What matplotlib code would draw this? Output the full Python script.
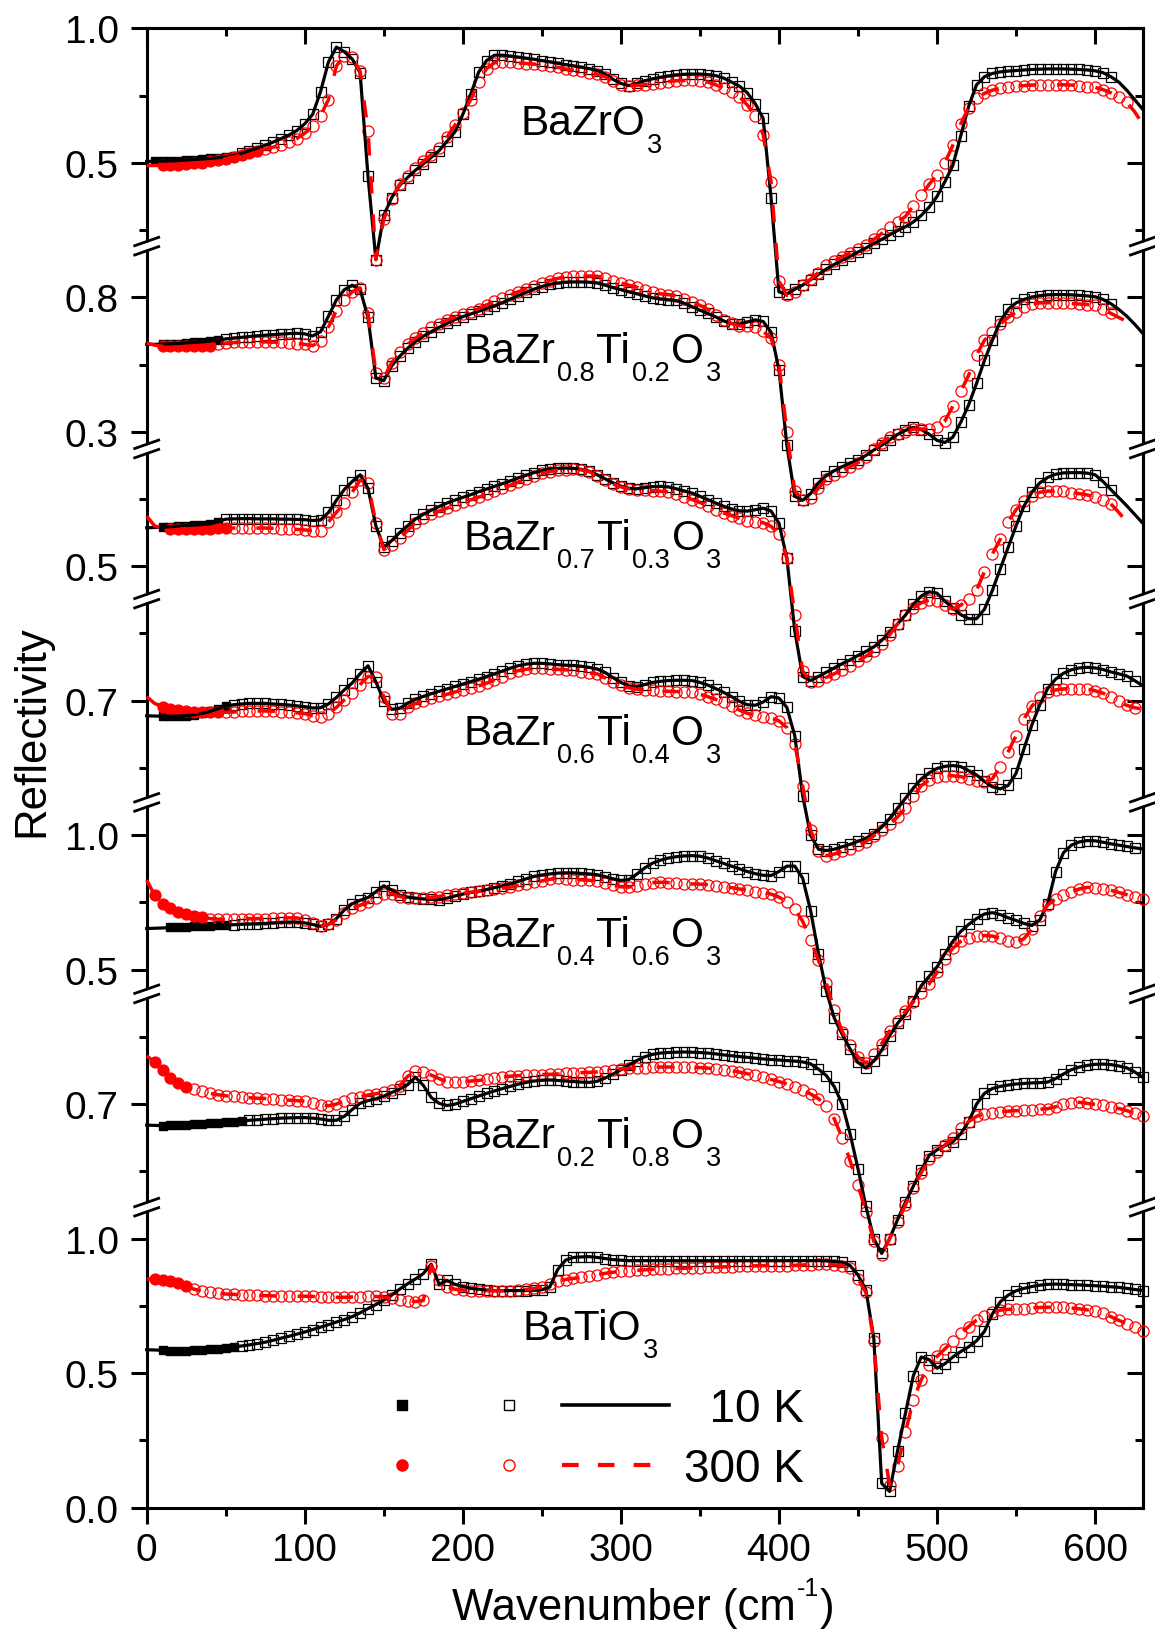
import numpy as np
import matplotlib
matplotlib.use("Agg")
import matplotlib.pyplot as plt
import matplotlib.transforms as mtransforms
from matplotlib.lines import Line2D
from matplotlib.patches import Polygon

plt.rcParams['font.family'] = ['Liberation Sans', 'DejaVu Sans']
plt.rcParams['mathtext.fontset'] = 'custom'
plt.rcParams['mathtext.rm'] = 'Liberation Sans'
plt.rcParams['mathtext.it'] = 'Liberation Sans:italic'
plt.rcParams['mathtext.bf'] = 'Liberation Sans:bold'

# ---------------- data ----------------
# wavenumber grid (cm^-1)
W = np.arange(0, 631, 5)

BZO_10K = [0.505,0.505,0.506,0.507,0.508,0.51,0.512,0.514,0.516,0.519,
           0.522,0.527,0.535,0.545,0.555,0.565,0.577,0.59,0.603,0.62,
           0.645,0.68,0.765,0.875,0.93,0.913,0.886,0.835,0.45,0.14,
           0.305,0.37,0.416,0.445,0.472,0.496,0.52,0.545,0.58,0.615,
           0.68,0.755,0.837,0.88,0.9,0.9,0.897,0.893,0.889,0.885,
           0.88,0.875,0.87,0.865,0.86,0.855,0.85,0.843,0.83,0.81,
           0.795,0.787,0.795,0.805,0.812,0.818,0.823,0.827,0.829,0.83,
           0.83,0.828,0.824,0.815,0.8,0.785,0.76,0.72,0.665,0.37,
           0.02,0.012,0.03,0.045,0.065,0.085,0.105,0.122,0.138,0.152,
           0.168,0.183,0.2,0.215,0.232,0.248,0.262,0.28,0.304,0.335,
           0.375,0.43,0.49,0.6,0.71,0.79,0.82,0.832,0.838,0.841,
           0.843,0.845,0.847,0.848,0.849,0.849,0.849,0.848,0.847,0.845,
           0.842,0.835,0.82,0.8,0.77,0.735,0.70]
BZO_300K = [0.49,0.49,0.49,0.491,0.493,0.495,0.498,0.501,0.505,0.51,
            0.515,0.522,0.53,0.537,0.544,0.551,0.558,0.567,0.577,0.59,
            0.61,0.635,0.675,0.735,0.86,0.898,0.892,0.84,0.62,0.14,
            0.29,0.366,0.42,0.45,0.48,0.505,0.53,0.555,0.595,0.64,
            0.685,0.735,0.8,0.85,0.872,0.874,0.873,0.871,0.869,0.867,
            0.864,0.86,0.855,0.849,0.844,0.84,0.835,0.83,0.82,0.803,
            0.79,0.786,0.788,0.791,0.794,0.798,0.802,0.805,0.806,0.806,
            0.805,0.8,0.79,0.778,0.762,0.745,0.715,0.675,0.605,0.43,
            0.06,0.007,0.02,0.045,0.067,0.092,0.119,0.135,0.15,0.165,
            0.18,0.195,0.215,0.237,0.26,0.28,0.3,0.34,0.379,0.42,
            0.455,0.5,0.565,0.645,0.705,0.74,0.758,0.77,0.777,0.782,
            0.785,0.787,0.789,0.79,0.79,0.79,0.79,0.789,0.787,0.783,
            0.78,0.772,0.76,0.745,0.725,0.69,0.645]

BZT20_10K = [0.625,0.625,0.626,0.627,0.628,0.63,0.632,0.634,0.637,0.64,
             0.645,0.648,0.651,0.654,0.657,0.659,0.661,0.663,0.665,0.666,
             0.664,0.656,0.672,0.73,0.79,0.828,0.845,0.83,0.725,0.5,
             0.49,0.545,0.58,0.61,0.635,0.655,0.672,0.688,0.703,0.717,
             0.728,0.738,0.748,0.758,0.768,0.78,0.793,0.806,0.818,0.83,
             0.84,0.848,0.853,0.856,0.857,0.857,0.856,0.853,0.845,0.836,
             0.828,0.82,0.813,0.805,0.798,0.794,0.791,0.788,0.778,0.765,
             0.752,0.74,0.727,0.712,0.702,0.7,0.708,0.716,0.71,0.67,
             0.53,0.25,0.06,0.045,0.07,0.11,0.137,0.155,0.17,0.183,
             0.195,0.212,0.232,0.25,0.27,0.29,0.305,0.316,0.308,0.291,
             0.268,0.26,0.28,0.335,0.4,0.48,0.565,0.64,0.71,0.755,
             0.779,0.792,0.801,0.806,0.809,0.81,0.81,0.809,0.807,0.805,
             0.802,0.792,0.776,0.755,0.73,0.7,0.667]
BZT20_300K = [0.63,0.622,0.618,0.617,0.617,0.617,0.617,0.618,0.62,0.625,
              0.63,0.632,0.633,0.634,0.634,0.634,0.633,0.632,0.63,0.628,
              0.625,0.62,0.638,0.69,0.75,0.79,0.82,0.835,0.74,0.52,
              0.5,0.557,0.595,0.625,0.648,0.668,0.688,0.702,0.715,0.727,
              0.737,0.747,0.758,0.771,0.785,0.797,0.809,0.82,0.832,0.843,
              0.853,0.862,0.87,0.876,0.878,0.879,0.879,0.878,0.872,0.862,
              0.853,0.845,0.838,0.826,0.818,0.813,0.81,0.806,0.795,0.782,
              0.77,0.755,0.735,0.717,0.703,0.694,0.693,0.688,0.673,0.648,
              0.55,0.3,0.08,0.045,0.055,0.09,0.124,0.14,0.155,0.17,
              0.185,0.205,0.235,0.26,0.28,0.293,0.3,0.31,0.31,0.31,
              0.316,0.34,0.395,0.45,0.51,0.585,0.64,0.672,0.7,0.725,
              0.745,0.762,0.774,0.779,0.78,0.779,0.778,0.777,0.775,0.773,
              0.77,0.755,0.74,0.725,0.71,0.695,0.68]

BZT30_10K = [0.643,0.644,0.645,0.647,0.649,0.651,0.653,0.655,0.657,0.665,
             0.675,0.676,0.677,0.677,0.676,0.676,0.676,0.675,0.675,0.674,
             0.673,0.67,0.672,0.7,0.745,0.785,0.815,0.84,0.79,0.65,
             0.57,0.595,0.625,0.65,0.675,0.693,0.708,0.722,0.735,0.746,
             0.756,0.766,0.777,0.787,0.797,0.807,0.817,0.828,0.838,0.848,
             0.856,0.862,0.864,0.865,0.864,0.86,0.853,0.84,0.825,0.81,
             0.798,0.79,0.788,0.792,0.796,0.797,0.795,0.788,0.78,0.772,
             0.76,0.748,0.735,0.723,0.713,0.706,0.705,0.71,0.716,0.705,
             0.66,0.53,0.26,0.09,0.075,0.09,0.106,0.122,0.138,0.152,
             0.168,0.183,0.2,0.224,0.255,0.285,0.318,0.358,0.389,0.405,
             0.4,0.37,0.345,0.32,0.305,0.305,0.34,0.41,0.49,0.57,
             0.65,0.723,0.775,0.81,0.83,0.842,0.847,0.848,0.848,0.846,
             0.84,0.815,0.785,0.755,0.725,0.693,0.661]
BZT30_300K = [0.686,0.65,0.641,0.639,0.639,0.639,0.639,0.639,0.64,0.641,
              0.642,0.642,0.642,0.642,0.642,0.642,0.641,0.64,0.638,0.637,
              0.635,0.632,0.632,0.665,0.7,0.735,0.775,0.82,0.81,0.66,
              0.562,0.58,0.605,0.632,0.662,0.68,0.693,0.705,0.716,0.727,
              0.737,0.747,0.757,0.767,0.778,0.79,0.801,0.813,0.825,0.836,
              0.845,0.852,0.857,0.859,0.86,0.858,0.852,0.835,0.82,0.805,
              0.795,0.788,0.784,0.782,0.781,0.779,0.776,0.768,0.758,0.748,
              0.737,0.724,0.71,0.698,0.688,0.678,0.67,0.666,0.662,0.648,
              0.62,0.53,0.32,0.11,0.069,0.075,0.087,0.1,0.115,0.13,
              0.148,0.165,0.185,0.21,0.245,0.285,0.32,0.345,0.364,0.374,
              0.372,0.355,0.34,0.355,0.38,0.41,0.48,0.545,0.6,0.665,
              0.71,0.741,0.762,0.775,0.779,0.78,0.778,0.774,0.77,0.765,
              0.758,0.748,0.732,0.7,0.665,np.nan,np.nan]

BZT40_10K = [0.644,0.643,0.642,0.642,0.643,0.645,0.648,0.653,0.66,0.67,
             0.68,0.685,0.688,0.69,0.69,0.69,0.688,0.686,0.684,0.681,
             0.678,0.673,0.674,0.688,0.712,0.74,0.766,0.8,0.83,0.77,
             0.7,0.668,0.672,0.69,0.705,0.716,0.726,0.735,0.744,0.753,
             0.762,0.771,0.78,0.79,0.8,0.81,0.821,0.83,0.836,0.839,
             0.839,0.837,0.834,0.832,0.831,0.828,0.824,0.818,0.805,0.786,
             0.768,0.755,0.752,0.76,0.768,0.772,0.775,0.776,0.776,0.775,
             0.768,0.758,0.745,0.731,0.715,0.698,0.685,0.683,0.695,0.715,
             0.71,0.675,0.57,0.347,0.2,0.148,0.143,0.148,0.157,0.166,
             0.177,0.188,0.206,0.23,0.262,0.3,0.337,0.375,0.409,0.432,
             0.448,0.456,0.459,0.455,0.44,0.424,0.4,0.38,0.372,0.385,
             0.43,0.521,0.61,0.685,0.745,0.78,0.802,0.815,0.822,0.824,
             0.822,0.816,0.807,0.8,0.792,0.775,0.756]
BZT40_300K = [0.715,0.69,0.678,0.67,0.664,0.66,0.658,0.657,0.657,0.657,
              0.657,0.658,0.66,0.661,0.662,0.662,0.661,0.659,0.657,0.655,
              0.652,0.644,0.64,0.652,0.675,0.703,0.728,0.76,0.79,0.79,
              0.715,0.652,0.65,0.675,0.69,0.7,0.709,0.716,0.724,0.732,
              0.74,0.747,0.755,0.765,0.778,0.79,0.803,0.812,0.817,0.82,
              0.82,0.819,0.817,0.815,0.813,0.808,0.803,0.8,0.785,0.77,
              0.758,0.748,0.743,0.74,0.738,0.736,0.735,0.734,0.733,0.731,
              0.724,0.715,0.705,0.694,0.68,0.665,0.653,0.646,0.641,0.636,
              0.625,0.6,0.54,0.384,0.22,0.14,0.124,0.13,0.14,0.148,
              0.162,0.176,0.198,0.22,0.24,0.268,0.3,0.345,0.384,0.405,
              0.418,0.421,0.421,0.418,0.41,0.4,0.396,0.41,0.455,0.51,
              0.57,0.632,0.68,0.712,0.732,0.74,0.744,0.745,0.745,0.743,
              0.737,0.728,0.715,0.698,0.683,0.674,0.669]

BZT60_10K = [0.653,0.654,0.655,0.657,0.658,0.66,0.661,0.663,0.664,0.665,
             0.666,0.667,0.669,0.67,0.671,0.672,0.674,0.676,0.677,0.677,
             0.674,0.668,0.661,0.668,0.69,0.722,0.745,0.758,0.768,0.79,
             0.812,0.796,0.777,0.77,0.766,0.763,0.761,0.76,0.766,0.774,
             0.781,0.787,0.792,0.798,0.805,0.812,0.819,0.828,0.838,0.847,
             0.852,0.856,0.859,0.86,0.86,0.858,0.856,0.853,0.846,0.838,
             0.832,0.835,0.855,0.878,0.896,0.907,0.915,0.92,0.923,0.924,
             0.922,0.915,0.905,0.895,0.885,0.875,0.865,0.857,0.851,0.85,
             0.865,0.885,0.885,0.84,0.72,0.56,0.42,0.32,0.26,0.205,
             0.155,0.135,0.16,0.2,0.255,0.3,0.335,0.385,0.44,0.475,
             0.51,0.56,0.605,0.642,0.668,0.69,0.707,0.712,0.705,0.693,
             0.683,0.672,0.664,0.685,0.745,0.865,0.935,0.963,0.975,0.98,
             0.979,0.974,0.968,0.963,0.958,0.953,0.949]
BZT60_300K = [0.833,0.777,0.746,0.728,0.715,0.706,0.699,0.694,0.69,0.688,
              0.687,0.688,0.689,0.69,0.69,0.69,0.691,0.692,0.693,0.692,
              0.685,0.672,0.663,0.668,0.685,0.71,0.728,0.74,0.75,0.768,
              0.783,0.783,0.772,0.767,0.765,0.766,0.769,0.772,0.776,0.78,
              0.784,0.788,0.791,0.795,0.799,0.803,0.807,0.813,0.819,0.825,
              0.83,0.836,0.84,0.838,0.835,0.834,0.832,0.83,0.823,0.815,
              0.808,0.807,0.812,0.819,0.824,0.825,0.824,0.822,0.82,0.819,
              0.818,0.816,0.812,0.808,0.805,0.8,0.795,0.79,0.786,0.781,
              0.77,0.752,0.725,0.68,0.61,0.535,0.45,0.35,0.27,0.22,
              0.175,0.152,0.185,0.225,0.272,0.31,0.345,0.38,0.415,0.447,
              0.49,0.54,0.58,0.605,0.617,0.624,0.627,0.625,0.617,0.608,
              0.602,0.615,0.651,0.7,0.74,0.763,0.778,0.789,0.8,0.806,
              0.805,0.8,0.795,0.787,0.779,0.771,0.763]

BZT80_10K = [0.622,0.621,0.62,0.621,0.622,0.623,0.625,0.627,0.629,0.631,
             0.633,0.635,0.637,0.64,0.642,0.644,0.646,0.648,0.649,0.65,
             0.65,0.648,0.645,0.64,0.64,0.655,0.68,0.703,0.713,0.72,
             0.73,0.743,0.756,0.772,0.8,0.77,0.725,0.703,0.695,0.7,
             0.71,0.72,0.73,0.74,0.749,0.758,0.766,0.774,0.781,0.786,
             0.789,0.79,0.788,0.786,0.784,0.782,0.781,0.785,0.797,0.812,
             0.828,0.845,0.862,0.876,0.885,0.89,0.892,0.893,0.894,0.893,
             0.892,0.89,0.887,0.883,0.88,0.877,0.874,0.871,0.868,0.866,
             0.864,0.862,0.86,0.857,0.85,0.83,0.806,0.765,0.7,0.59,
             0.46,0.32,0.2,0.145,0.2,0.27,0.335,0.395,0.455,0.509,
             0.53,0.545,0.56,0.59,0.635,0.7,0.74,0.758,0.766,0.771,
             0.775,0.777,0.779,0.78,0.782,0.795,0.812,0.828,0.838,0.844,
             0.848,0.849,0.847,0.842,0.835,0.82,0.8]
BZT80_300K = [0.88,0.855,0.826,0.799,0.778,0.763,0.756,0.748,0.74,0.735,
              0.731,0.729,0.726,0.724,0.722,0.721,0.719,0.717,0.715,0.713,
              0.711,0.705,0.698,0.694,0.7,0.713,0.722,0.728,0.734,0.739,
              0.745,0.752,0.768,0.803,0.822,0.82,0.808,0.795,0.782,0.781,
              0.783,0.786,0.788,0.792,0.796,0.8,0.804,0.806,0.808,0.81,
              0.81,0.811,0.812,0.814,0.816,0.817,0.818,0.82,0.824,0.828,
              0.831,0.833,0.835,0.836,0.837,0.838,0.838,0.838,0.837,0.837,
              0.836,0.834,0.831,0.828,0.824,0.819,0.813,0.807,0.8,0.792,
              0.784,0.775,0.765,0.752,0.738,0.72,0.694,0.645,0.575,0.49,
              0.4,0.3,0.19,0.14,0.2,0.26,0.325,0.39,0.445,0.496,
              0.523,0.548,0.573,0.61,0.635,0.655,0.664,0.668,0.671,0.674,
              0.676,0.677,0.679,0.681,0.683,0.69,0.699,0.706,0.707,0.703,
              0.699,0.695,0.69,0.684,0.676,0.667,0.657]

BTO_10K = [0.587,0.586,0.585,0.584,0.584,0.584,0.585,0.587,0.589,0.591,
           0.594,0.597,0.601,0.605,0.61,0.615,0.622,0.63,0.637,0.645,
           0.653,0.662,0.671,0.68,0.69,0.699,0.71,0.724,0.74,0.755,
           0.771,0.79,0.812,0.832,0.85,0.87,0.905,0.83,0.845,0.83,
           0.822,0.815,0.812,0.809,0.807,0.807,0.807,0.807,0.807,0.808,
           0.81,0.82,0.885,0.92,0.93,0.932,0.933,0.93,0.926,0.922,
           0.92,0.918,0.918,0.918,0.918,0.918,0.918,0.918,0.918,0.918,
           0.918,0.918,0.918,0.918,0.918,0.918,0.918,0.918,0.918,0.918,
           0.918,0.918,0.918,0.918,0.918,0.918,0.917,0.915,0.912,0.9,
           0.865,0.81,0.63,0.09,0.06,0.21,0.35,0.49,0.56,0.55,
           0.518,0.535,0.56,0.58,0.598,0.62,0.655,0.72,0.765,0.79,
           0.806,0.815,0.822,0.827,0.83,0.831,0.83,0.829,0.828,0.826,
           0.825,0.823,0.821,0.819,0.815,0.811,0.807]
BTO_300K = [0.85,0.849,0.846,0.841,0.834,0.824,0.812,0.805,0.801,0.797,
            0.794,0.793,0.791,0.79,0.789,0.788,0.787,0.787,0.786,0.786,
            0.786,0.785,0.784,0.783,0.782,0.782,0.783,0.784,0.785,0.785,
            0.783,0.778,0.773,0.769,0.766,0.77,0.9,0.845,0.82,0.812,
            0.809,0.807,0.807,0.806,0.806,0.806,0.807,0.808,0.811,0.815,
            0.82,0.83,0.842,0.848,0.852,0.856,0.86,0.866,0.871,0.875,
            0.878,0.88,0.882,0.884,0.886,0.887,0.888,0.889,0.89,0.891,
            0.892,0.893,0.894,0.895,0.896,0.897,0.898,0.899,0.9,0.9,
            0.9,0.9,0.901,0.902,0.903,0.904,0.905,0.903,0.9,0.89,
            0.85,0.8,0.62,0.26,0.085,0.155,0.28,0.4,0.475,0.53,
            0.562,0.59,0.618,0.648,0.673,0.697,0.712,0.727,0.734,0.737,
            0.738,0.74,0.742,0.744,0.745,0.745,0.744,0.742,0.739,0.735,
            0.731,0.722,0.71,0.696,0.684,0.671,0.658]

NAMES = [[('BaZrO', 0), ('3', 1)],
         [('BaZr', 0), ('0.8', 1), ('Ti', 0), ('0.2', 1), ('O', 0), ('3', 1)],
         [('BaZr', 0), ('0.7', 1), ('Ti', 0), ('0.3', 1), ('O', 0), ('3', 1)],
         [('BaZr', 0), ('0.6', 1), ('Ti', 0), ('0.4', 1), ('O', 0), ('3', 1)],
         [('BaZr', 0), ('0.4', 1), ('Ti', 0), ('0.6', 1), ('O', 0), ('3', 1)],
         [('BaZr', 0), ('0.2', 1), ('Ti', 0), ('0.8', 1), ('O', 0), ('3', 1)],
         [('BaTiO', 0), ('3', 1)]]
R10 = [BZO_10K, BZT20_10K, BZT30_10K, BZT40_10K, BZT60_10K, BZT80_10K, BTO_10K]
R300 = [BZO_300K, BZT20_300K, BZT30_300K, BZT40_300K, BZT60_300K, BZT80_300K, BTO_300K]
# THz (filled symbols) ranges and end of FIR data, cm^-1
THZ10 = [(5, 55), (10, 45), (10, 45), (10, 50), (15, 50), (10, 60), (10, 55)]
THZ300 = [(10, 70), (10, 40), (15, 50), (10, 45), (5, 35), (5, 25), (5, 25)]
FIR_END10 = [610, 610, 610, 625, 625, 630, 630]
FIR_END300 = [620, 610, 610, 625, 630, 630, 630]

# layout: vertical offsets of each stacked panel, tick labels
OFFSETS = [4.5, 3.7, 3.0, 2.3, 1.5, 0.8, 0.0]
YTICK_POS = [0, 0.5, 1.0, 1.5, 2.0, 2.5, 3.0, 3.5, 4.0, 4.5, 5.0, 5.5]
YTICK_LABELS = ['0.0', '0.5', '1.0', '0.7', '0.5', '1.0', '0.7', '0.5', '0.3', '0.8', '0.5', '1.0']
BREAKS = [4.69, 3.936, 3.378, 2.622, 1.91, 1.117]
LABEL_POS = [(236.2, 5.107), (200.5, 4.258), (200.5, 3.564), (200.5, 2.839),
             (200.5, 2.089), (200.5, 1.34), (237.9, 0.627)]

# ---------------- figure ----------------
fig = plt.figure(figsize=(11.55, 16.4), dpi=100)
ax = fig.add_axes([146.7 / 1155, 1 - 1508.6 / 1640, 995.8 / 1155, 1479.3 / 1640])
ax.set_xlim(0, 630)
ax.set_ylim(0, 5.5)

RED = '#ff0000'
W_arr = np.asarray(W)
for i in range(7):
    off = OFFSETS[i]
    r10 = np.asarray(R10[i], dtype=float) + off
    r300 = np.asarray(R300[i], dtype=float) + off
    lo, hi = THZ10[i]
    m = (W_arr >= lo) & (W_arr <= hi)
    ax.plot(W_arr[m], r10[m], ls='none', marker='s', ms=6.4, color='black', zorder=3, clip_on=False)
    m = (W_arr > hi) & (W_arr <= FIR_END10[i])
    ax.plot(W_arr[m], r10[m], ls='none', marker='s', ms=7.4, mfc='none', mec='black', mew=0.9,
            zorder=3, clip_on=False)
    lo, hi = THZ300[i]
    m = (W_arr >= lo) & (W_arr <= hi)
    ax.plot(W_arr[m], r300[m], ls='none', marker='o', ms=7.8, color=RED, zorder=3.2, clip_on=False)
    m = (W_arr > hi) & (W_arr <= FIR_END300[i])
    ax.plot(W_arr[m], r300[m], ls='none', marker='o', ms=8.0, mfc='none', mec=RED, mew=0.9,
            zorder=3.2, clip_on=False)
    ax.plot(W_arr, r10, color='black', lw=2.3, zorder=4, clip_on=False)
    ax.plot(W_arr, r300, color=RED, lw=2.5, ls=(0, (5.0, 6.0)), zorder=4.5, clip_on=False)

# sample labels with Origin-like subscripts
def chem_label(x, y, parts, fs=30.5, sfs=19.5, drop=10.9, gap=1.2):
    base = ax.text(x, y, parts[0][0], fontsize=fs, va='baseline', ha='left', zorder=6)
    prev = base
    for s, sub in parts[1:]:
        if sub:
            prev = ax.annotate(s, xy=(1, 0), xycoords=(prev, base), xytext=(gap, -drop),
                               textcoords='offset points', fontsize=sfs, va='bottom', ha='left', zorder=6)
        else:
            prev = ax.annotate(s, xy=(1, 0), xycoords=(prev, base), xytext=(gap, 0),
                               textcoords='offset points', fontsize=fs, va='bottom', ha='left', zorder=6)

for (x, y), parts in zip(LABEL_POS, NAMES):
    chem_label(x, y, parts)

# ticks
ax.set_xticks([0, 100, 200, 300, 400, 500, 600])
ax.set_xticks([50, 150, 250, 350, 450, 550], minor=True)
ax.set_yticks(YTICK_POS, YTICK_LABELS)
ax.set_yticks([0.25 + 0.5 * k for k in range(11)], minor=True)
ax.tick_params(which='major', direction='out', length=11.5, width=2.2, labelsize=28)
ax.tick_params(which='minor', direction='out', length=5.8, width=2.2)
ax.tick_params(axis='x', pad=6)
ax.tick_params(axis='y', pad=8.5)
for s in ax.spines.values():
    s.set_linewidth(2.2)

secx = ax.secondary_xaxis('top')
secx.set_xticks([0, 100, 200, 300, 400, 500, 600])
secx.set_xticks([50, 150, 250, 350, 450, 550], minor=True)
secx.tick_params(which='major', direction='in', length=11.5, width=2.2, labeltop=False, labelbottom=False)
secx.tick_params(which='minor', direction='in', length=5.8, width=2.2)
secx.spines['top'].set_linewidth(2.2)
secy = ax.secondary_yaxis('right')
secy.set_yticks(YTICK_POS)
secy.set_yticks([0.25 + 0.5 * k for k in range(11)], minor=True)
secy.tick_params(which='major', direction='in', length=11.5, width=2.2, labelright=False, labelleft=False)
secy.tick_params(which='minor', direction='in', length=5.8, width=2.2)
secy.spines['right'].set_linewidth(2.2)

# axis breaks
def draw_break(yv, xa):
    trans = fig.dpi_scale_trans + mtransforms.ScaledTranslation(xa, yv, ax.get_yaxis_transform())
    hx, rise, sep = 0.133, 0.0465, 0.0465
    poly = Polygon([(-hx * 0.7, -rise * 0.7 - sep + 0.012), (hx * 0.7, rise * 0.7 - sep + 0.012),
                    (hx * 0.7, rise * 0.7 + sep - 0.012), (-hx * 0.7, -rise * 0.7 + sep - 0.012)],
                   closed=True, transform=trans, facecolor='white', edgecolor='none',
                   clip_on=False, zorder=10)
    ax.add_artist(poly)
    for s in (-sep, sep):
        ax.add_artist(Line2D([-hx, hx], [-rise + s, rise + s], transform=trans, color='black',
                             lw=2.0, clip_on=False, zorder=11, solid_capstyle='butt'))

for yb in BREAKS:
    draw_break(yb, 0.0)
    draw_break(yb, 1.0)

# axis labels
xl = fig.text(452 / 1155, 1 - 1620 / 1640, 'Wavenumber (cm', fontsize=31.5, ha='left', va='baseline')
xs = ax.annotate('-1', xy=(1, 0), xycoords=(xl, xl), xytext=(0.8, 20.0), textcoords='offset points',
                 fontsize=18, ha='left', va='bottom', annotation_clip=False)
ax.annotate(')', xy=(1, 0), xycoords=(xs, xl), xytext=(0.8, 0), textcoords='offset points',
            fontsize=31.5, ha='left', va='bottom', annotation_clip=False)
fig.text(32 / 1155, 1 - 731 / 1640, 'Reflectivity', fontsize=31.5, rotation=90, ha='center', va='center')

# legend
h = [Line2D([], [], ls='none', marker='s', ms=7, color='black'),
     Line2D([], [], ls='none', marker='o', ms=8, color=RED),
     Line2D([], [], ls='none', marker='s', ms=7, mfc='none', mec='black', mew=1.0),
     Line2D([], [], ls='none', marker='o', ms=8, mfc='none', mec=RED, mew=1.0),
     Line2D([], [], color='black', lw=2.6),
     Line2D([], [], color=RED, lw=3.0, ls=(0, (4.0, 4.6)))]
labels = ['', '', '', '', '\u200710 K', '300 K']
leg = ax.legend(h, labels, ncol=3, frameon=False, fontsize=33, handlelength=2.33,
                handletextpad=0.33, columnspacing=-0.33, labelspacing=0.33, borderpad=0,
                borderaxespad=0, loc='center',
                bbox_to_anchor=(576 / 1155, 1 - 1440 / 1640), bbox_transform=fig.transFigure)
leg.set_zorder(7)

fig.savefig('out.png', dpi=100)
